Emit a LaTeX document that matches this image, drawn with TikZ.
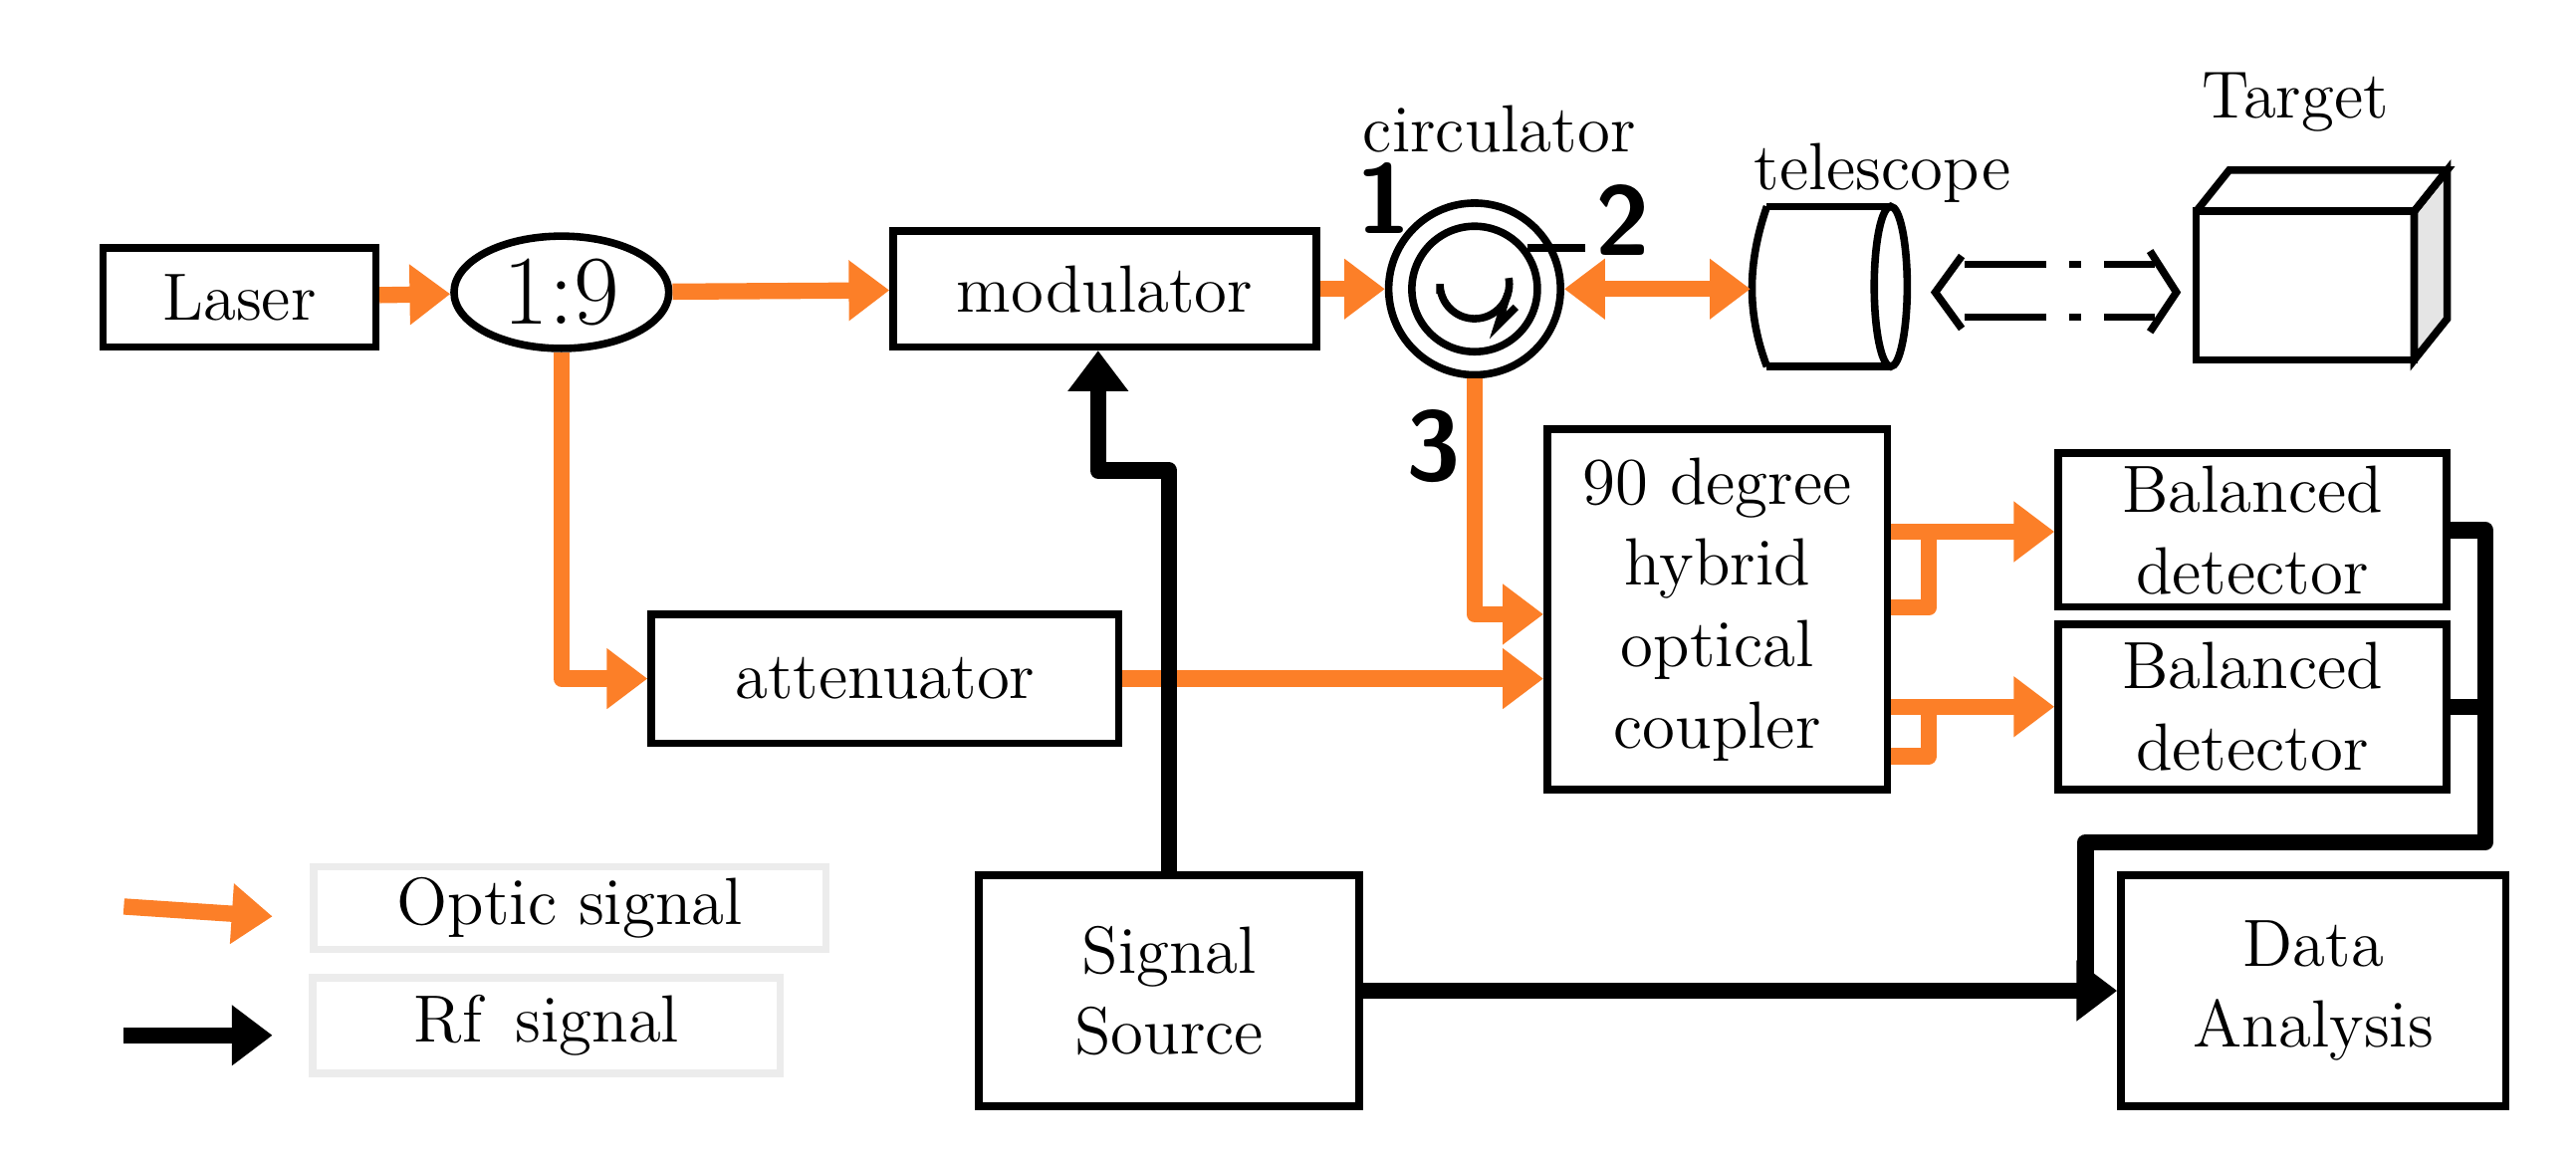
\documentclass[tikz,border=0pt]{standalone}
\usetikzlibrary{arrows.meta,shapes.geometric}
\definecolor{optic}{RGB}{252,127,40}
\begin{document}
\begin{tikzpicture}[
        x=0.01cm, y=-0.01cm,
        font=\fontsize{11.5}{14}\selectfont,
        line width=1.3pt
    ]
    \tikzstyle{block} = [
        draw, rectangle, align=center, inner sep=0pt
    ]
    \tikzstyle{legend} = [
        draw=gray!15, rectangle, align=center, inner sep=0pt
    ]
    \tikzstyle{optic} = [
        draw=optic, line width=2.8pt, line join=round,
        -{Triangle[length=7pt,width=10pt]}
    ]
    \tikzstyle{rf} = [
        draw=black, line width=2.8pt, line join=round,
        -{Triangle[length=7pt,width=10pt]}
    ]
    \tikzstyle{port} = [
        font=\fontsize{17}{19}\selectfont\sffamily\bfseries
    ]

    \useasboundingbox (0,0) rectangle (1560,702);

    % blocks
    \node [block, minimum width=1.65cm, minimum height=0.6cm] (laser) at (145,180) {Laser};
    \node [draw, ellipse, minimum width=1.3cm, minimum height=0.68cm, inner sep=0pt,
           font=\fontsize{17}{19}\selectfont] (split) at (340,177) {1:9};
    \node [block, minimum width=2.56cm, minimum height=0.7cm] (mod) at (669,175) {modulator};
    \node [block, minimum width=2.83cm, minimum height=0.78cm] (att) at (536,411) {attenuator};
    \node [block, minimum width=2.06cm, minimum height=2.18cm] (hyb) at (1040,369) {90 degree\\hybrid\\optical\\coupler};
    \node [block, minimum width=2.35cm, minimum height=0.93cm] (bd1) at (1364,321) {Balanced\\detector};
    \node [block, minimum width=2.35cm, minimum height=1.0cm] (bd2) at (1364,428) {Balanced\\detector};
    \node [block, minimum width=2.3cm, minimum height=1.4cm] (src) at (708,600) {Signal\\Source};
    \node [block, minimum width=2.33cm, minimum height=1.4cm] (data) at (1401,600) {Data\\Analysis};

    % circulator
    \node [draw, circle, minimum size=1.04cm, inner sep=0pt] (circ) at (893,175) {};
    \draw (893,175) circle (38);
    \draw (872,178) -- (872,172) arc (180:-10:21);
    \draw (913,178) -- (907,197) -- (918,186);
    \draw (925,150) -- (960,150);
    \node (circlabel) at (908,78) {circulator};
    \node [port] (p1) at (838,120) {1};
    \node [port] (p2) at (983,133) {2};
    \node [port] (p3) at (868,270) {3};

    % telescope
    \draw (1070,125) -- (1145,125) (1070,222) -- (1145,222);
    \draw (1070,125) .. controls (1058,160) and (1058,190) .. (1070,222);
    \draw (1145,173.5) ellipse (10 and 48.5);
    \node (tellabel) at (1140,105) {telescope};
    \coordinate (tel) at (1060,175);

    % target
    \draw [fill=gray!20] (1462,128) -- (1482,103) -- (1482,193) -- (1462,218) -- cycle;
    \draw (1330,128) -- (1350,103) -- (1482,103) -- (1462,128);
    \node [draw, minimum width=1.32cm, minimum height=0.9cm, inner sep=0pt] (target) at (1396,173) {};
    \node (tarlabel) at (1390,62) {Target};

    % beam to target
    \draw [line width=1.3pt, dash pattern=on 14pt off 4pt on 2pt off 4pt]
        (1190,160) -- (1305,160) (1190,192) -- (1305,192);
    \draw [line width=1.3pt] (1188,155) -- (1172,177) -- (1188,199)
        (1302,152) -- (1318,177) -- (1302,201);

    % optic signal
    \draw [optic] (laser) -- (split);
    \draw [optic] (split) -- (mod);
    \draw [optic] (split.south) |- (att);
    \draw [optic] (mod) -- (circ);
    \draw [optic, {Triangle[length=7pt,width=10pt]}-{Triangle[length=7pt,width=10pt]}] (circ) -- (tel);
    \draw [optic] (circ.south) |- (hyb.west |- 0,372);
    \draw [optic] (att.east) -- (hyb.west |- 0,411);
    \draw [optic] (hyb.east |- 0,322) -- (bd1.west |- 0,322);
    \draw [draw=optic, line width=2.8pt, line join=round] (hyb.east |- 0,368) -- (1168,368) -- (1168,322);
    \draw [optic] (hyb.east |- 0,428) -- (bd2.west |- 0,428);
    \draw [draw=optic, line width=2.8pt, line join=round] (hyb.east |- 0,458) -- (1168,458) -- (1168,428);

    % rf signal
    \draw [rf] (src.north) -- (708,285) -- (665,285) -- (mod.south -| 665,0);
    \draw [rf] (src.east) -- (data.west);
    \draw [draw=black, line width=2.8pt, line join=round] (bd1.east) -- (1505,321) -- (1505,510) -- (1263,510) -- (1263,600);
    \draw [draw=black, line width=2.8pt] (bd2.east) -- (1505,428);

    % legend
    \node [legend, minimum width=3.1cm, minimum height=0.5cm] (lopt) at (345,550) {Optic signal};
    \node [legend, minimum width=2.83cm, minimum height=0.58cm] (lrf) at (331,621) {Rf\enspace signal};
    \coordinate (lopt0) at (75,549);
    \coordinate (lrf0) at (75,627);
    \draw [optic] (lopt0) -- (165,555);
    \draw [rf] (lrf0) -- (165,627);
\end{tikzpicture}
\end{document}
